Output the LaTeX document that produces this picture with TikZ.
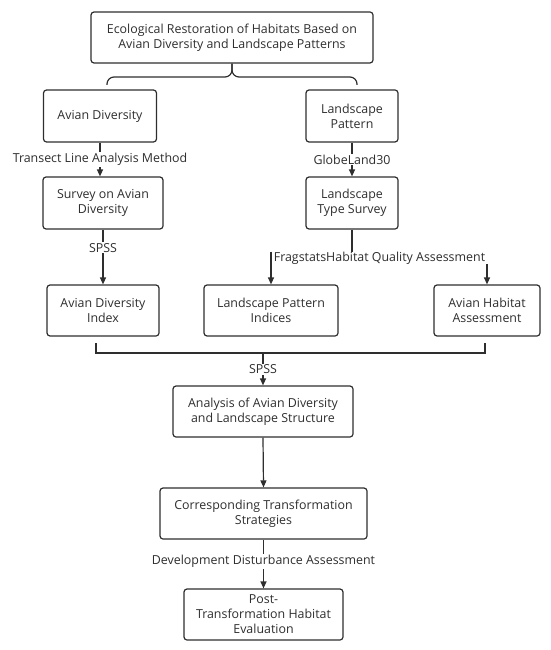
\documentclass[tikz,border=0pt]{standalone}
\usepackage{fontspec}
\setmainfont{Open Sans}
\usetikzlibrary{arrows.meta,calc}
\definecolor{ink}{HTML}{2E2E2E}
\begin{document}
\begin{tikzpicture}[x=1pt,y=-1pt,
  box/.style={draw=ink,line width=1.2pt,rounded corners=3pt,align=center,text=ink,
    font=\fontsize{12.4}{15}\selectfont,inner sep=0pt},
  lbl/.style={text=ink,font=\fontsize{12.4}{15}\selectfont,fill=white,inner sep=1pt},
  conn/.style={draw=ink,line width=1.2pt},
  arr/.style={conn,-{Triangle[length=7pt,width=6pt]}}]
\useasboundingbox (0,0) rectangle (550,650);
\node[box,minimum width=282pt,minimum height=51pt] (top) at (232,37.5) {Ecological Restoration of Habitats Based on\\Avian Diversity and Landscape Patterns};
\node[box,minimum width=113pt,minimum height=52pt] (avd) at (100,116) {Avian Diversity};
\node[box,minimum width=92pt,minimum height=52pt] (lp) at (352,116) {Landscape\\Pattern};
\node[box,minimum width=120pt,minimum height=52pt] (sav) at (103,203) {Survey on Avian\\Diversity};
\node[box,minimum width=92pt,minimum height=52pt] (lts) at (352,203) {Landscape\\Type Survey};
\node[box,minimum width=112pt,minimum height=51pt] (adi) at (103,310.5) {Avian Diversity\\Index};
\node[box,minimum width=134pt,minimum height=51pt] (lpi) at (271,310.5) {Landscape Pattern\\Indices};
\node[box,minimum width=106pt,minimum height=51pt] (aha) at (487,310.5) {Avian Habitat\\Assessment};
\node[box,minimum width=180pt,minimum height=51pt] (ana) at (263,411.5) {Analysis of Avian Diversity\\and Landscape Structure};
\node[box,minimum width=207pt,minimum height=51pt] (cts) at (263.5,513.5) {Corresponding Transformation\\Strategies};
\node[box,minimum width=159pt,minimum height=51pt] (pth) at (263.5,614.5) {Post-\\Transformation Habitat\\Evaluation};
% brace
\coordinate (bl) at (107,85);
\coordinate (br) at (357,85);
\coordinate (bm) at (232,77);
\draw[conn,rounded corners=7pt] (bl) -- (bl |- bm) -- (bm) -- (top.south);
\draw[conn,rounded corners=7pt] (br) -- (br |- bm) -- (bm) -- (top.south);
% left column
\draw[arr] (avd.south) -- (avd.south |- sav.north) node[lbl,midway] {Transect Line Analysis Method};
\draw[arr] (sav.south) -- (adi.north) node[lbl,pos=0.33] {SPSS};
% right column
\draw[arr] (lp.south) -- (lts.north) node[lbl,midway] {GlobeLand30};
\node[lbl,inner sep=0pt] (fq) at (379.5,258) {FragstatsHabitat Quality Assessment};
\draw[conn] (lts.south) -- (lts.south |- fq.north);
\draw[arr] (lpi.north |- fq.north) -- (lpi.north);
\draw[arr] (aha.north |- fq.south) -- (aha.north);
% collector
\coordinate (c1) at (96,343);
\coordinate (c2) at (96,353);
\coordinate (c3) at (485,353);
\coordinate (c4) at (485,343);
\draw[conn] (c1) -- (c2) -- (c3) -- (c4);
\draw[arr] (ana.north |- c2) -- (ana.north) node[lbl,midway] {SPSS};
\draw[arr] (ana.south) -- (cts.north);
\draw[arr] (cts.south) -- (pth.north) node[lbl,pos=0.45] {Development Disturbance Assessment};
\end{tikzpicture}
\end{document}
